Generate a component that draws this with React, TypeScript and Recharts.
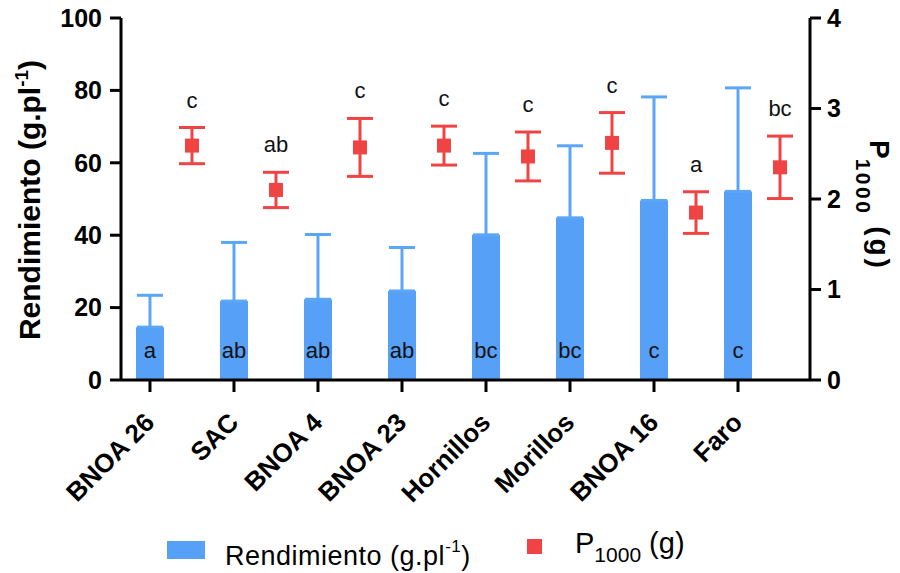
import React from "react";
import {
  ComposedChart,
  Bar,
  Scatter,
  ErrorBar,
  XAxis,
  YAxis,
  Legend,
  LabelList,
} from "recharts";

document.body.style.margin = "0";

const categories = ["BNOA 26", "SAC", "BNOA 4", "BNOA 23", "Hornillos", "Morillos", "BNOA 16", "Faro"];
const rendimiento = [14.6, 21.8, 22.3, 24.6, 40.1, 44.8, 49.6, 52.1];
const rendimientoErr = [8.8, 16.2, 17.9, 12.0, 22.5, 19.9, 28.6, 28.6];
const rendLetters = ["a", "ab", "ab", "ab", "bc", "bc", "c", "c"];
const p1000 = [2.59, 2.1, 2.57, 2.59, 2.47, 2.62, 1.85, 2.35];
const p1000Err = [0.2, 0.195, 0.32, 0.215, 0.27, 0.335, 0.23, 0.345];
const pLetters = ["c", "ab", "c", "c", "c", "c", "a", "bc"];
const leftTicks = [0, 20, 40, 60, 80, 100];
const rightTicks = [0, 1, 2, 3, 4];

const FONT = '"Liberation Sans", Arial, sans-serif';
const BLUE = "#56A0F8";
const BLUE_ERR = "#5CA6F6";
const RED = "#F04444";

// bars sit on integer positions, P1000 points half a step to the right
const barRows = categories.map((name, i) => ({
  x: i,
  name,
  rend: rendimiento[i],
  rendErr: [0, rendimientoErr[i]],
  letter: rendLetters[i],
}));

const pointRows = categories.map((name, i) => ({
  x: i + 0.5,
  p: p1000[i],
  pErr: p1000Err[i],
  letter: pLetters[i],
}));

const labelRows = pointRows.map((r) => ({ x: r.x, top: r.p + r.pErr, letter: r.letter }));

function CategoryTick({ x, y, payload }: any) {
  const label = categories[payload.value] ?? "";
  const ex = x + 6;
  const ey = y + 30;
  return (
    <text
      x={ex}
      y={ey}
      transform={`rotate(-45, ${ex}, ${ey})`}
      textAnchor="end"
      fontFamily={FONT}
      fontWeight="bold"
      fontSize={26}
      fill="#000"
    >
      {label}
    </text>
  );
}

function LeftTitle() {
  const cx = 40;
  const cy = 200;
  return (
    <text
      x={cx}
      y={cy}
      transform={`rotate(-90, ${cx}, ${cy})`}
      textAnchor="middle"
      fontFamily={FONT}
      fontWeight="bold"
      fontSize={30}
      fill="#000"
    >
      Rendimiento (g.pl
      <tspan dy={-12} fontSize={19}>-1</tspan>
      <tspan dy={12}>)</tspan>
    </text>
  );
}

function RightTitle() {
  const bx = 870;
  const by = 140;
  return (
    <text
      x={bx}
      y={by}
      transform={`rotate(90, ${bx}, ${by})`}
      textAnchor="start"
      fontFamily={FONT}
      fontWeight="bold"
      fontSize={28}
      fill="#000"
    >
      P
      <tspan dy={14} fontSize={21} letterSpacing={2.5}>1000</tspan>
      <tspan dy={-14} letterSpacing={3}> (g)</tspan>
    </text>
  );
}

function PointShape({ cx, cy }: any) {
  return <rect x={cx - 7} y={cy - 7} width={14} height={14} fill={RED} />;
}

function PointLetter({ cx, cy, payload }: any) {
  return (
    <text
      x={cx}
      y={cy - 20}
      textAnchor="middle"
      fontFamily={FONT}
      fontSize={22}
      fill="#111"
    >
      {payload.letter}
    </text>
  );
}

function BarLetter({ x, y, width, height, value }: any) {
  return (
    <text
      x={x + width / 2}
      y={y + height - 22}
      textAnchor="middle"
      fontFamily={FONT}
      fontSize={22}
      fill="#111"
    >
      {value}
    </text>
  );
}

// legend drawn in its own svg; y values are relative to the legend's top (528)
function LegendBox() {
  return (
    <svg width={900} height={45} style={{ display: "block" }}>
      <rect x={167} y={13} width={38} height={18} fill={BLUE} />
      <text x={225} y={37} fontFamily={FONT} fontSize={27} letterSpacing={0.5} fill="#000">
        Rendimiento (g.pl
        <tspan dy={-13} fontSize={17}>-1</tspan>
        <tspan dy={13}>)</tspan>
      </text>
      <rect x={527} y={11} width={15} height={15} fill={RED} />
      <text x={575} y={25} fontFamily={FONT} fontSize={29} fill="#000">
        P
        <tspan dy={9} fontSize={21}>1000</tspan>
        <tspan dy={-9}> (g)</tspan>
      </text>
    </svg>
  );
}

export default function App() {
  return (
    <div style={{ width: 900, height: 573, background: "#fff" }}>
      <ComposedChart
        width={900}
        height={573}
        data={barRows}
        margin={{ top: 18, right: 0, bottom: 0, left: 0 }}
      >
        <XAxis
          dataKey="x"
          type="number"
          domain={[-0.345, 7.857]}
          allowDataOverflow
          ticks={[0, 1, 2, 3, 4, 5, 6, 7]}
          interval={0}
          height={148}
          tickSize={12}
          axisLine={{ stroke: "#000", strokeWidth: 3 }}
          tickLine={{ stroke: "#000", strokeWidth: 3 }}
          tick={<CategoryTick />}
        />
        <YAxis
          yAxisId="left"
          orientation="left"
          domain={[0, 100]}
          ticks={leftTicks}
          width={121}
          tickSize={11}
          tickMargin={8}
          axisLine={{ stroke: "#000", strokeWidth: 3 }}
          tickLine={{ stroke: "#000", strokeWidth: 3 }}
          tick={{ fill: "#000", fontSize: 25, fontWeight: "bold", fontFamily: FONT }}
          label={<LeftTitle />}
        />
        <YAxis
          yAxisId="right"
          orientation="right"
          domain={[0, 4]}
          ticks={rightTicks}
          width={90}
          tickSize={11}
          tickMargin={6}
          axisLine={{ stroke: "#000", strokeWidth: 3 }}
          tickLine={{ stroke: "#000", strokeWidth: 3 }}
          tick={{ fill: "#000", fontSize: 25, fontWeight: "bold", fontFamily: FONT }}
          label={<RightTitle />}
        />
        <Legend
          verticalAlign="bottom"
          content={<LegendBox />}
          wrapperStyle={{ position: "absolute", left: 0, top: 528, width: 900, height: 45 }}
        />
        <Bar
          yAxisId="left"
          dataKey="rend"
          name="Rendimiento"
          fill={BLUE}
          barSize={28}
          isAnimationActive={false}
        >
          <ErrorBar dataKey="rendErr" direction="y" width={13} stroke={BLUE_ERR} strokeWidth={3} />
          <LabelList dataKey="letter" content={<BarLetter />} />
        </Bar>
        <Scatter
          yAxisId="right"
          data={pointRows}
          dataKey="p"
          name="P1000"
          shape={<PointShape />}
          isAnimationActive={false}
        >
          <ErrorBar dataKey="pErr" direction="y" width={13} stroke={RED} strokeWidth={3} />
        </Scatter>
        <Scatter
          yAxisId="right"
          data={labelRows}
          dataKey="top"
          legendType="none"
          shape={<PointLetter />}
          isAnimationActive={false}
        />
      </ComposedChart>
    </div>
  );
}
